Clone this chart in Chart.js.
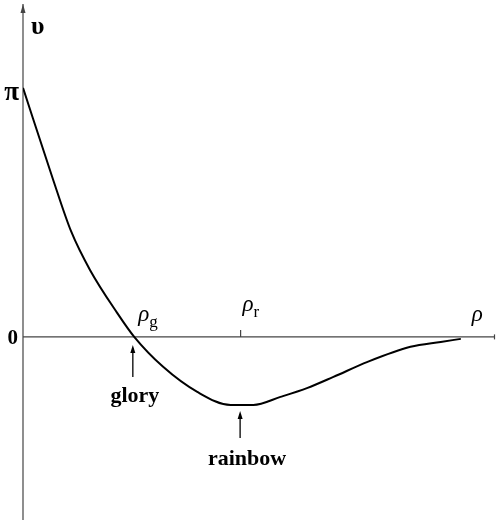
<!DOCTYPE html>
<html>
<head>
<meta charset="utf-8">
<script src="https://cdn.jsdelivr.net/npm/chart.js@4.4.1/dist/chart.umd.min.js"></script>
<style>
  html, body { margin: 0; padding: 0; background: #fff; }
  #plot { display: block; }
</style>
</head>
<body>
<canvas id="plot" width="496" height="524"></canvas>
<script>
// Deflection angle against impact parameter
const rho = [0, 0.069, 0.11, 0.153, 0.215, 0.254, 0.320, 0.398, 0.474, 0.526, 0.588, 0.650, 0.709, 0.787, 0.885, 0.954, 1.0];
const upsilon = [Math.PI, 1.98, 1.33, 0.845, 0.303, 0, -0.378, -0.694, -0.858, -0.858, -0.757, -0.643, -0.505, -0.315, -0.125, -0.063, -0.025];

// Labels on the vertical axis
const yTickValues = [Math.PI, 0];
const yTickLabels = ['π', '0'];

// Special points: glory (zero crossing) and rainbow (minimum)
const markerNames = ['glory', 'rainbow'];
const markerRho = [0.252, 0.497];
const markerSub = ['g', 'r'];

const serif = '"Liberation Serif", "DejaVu Serif", serif';

const axesPlugin = {
  id: 'axes',
  beforeDatasetsDraw(chart) {
    const { ctx, scales: { x, y } } = chart;
    const x0 = x.getPixelForValue(0);
    const y0 = y.getPixelForValue(0);
    ctx.save();
    ctx.strokeStyle = '#444';
    ctx.lineWidth = 1.2;
    // vertical axis with arrowhead
    ctx.beginPath();
    ctx.moveTo(x0, y.bottom);
    ctx.lineTo(x0, y.top);
    ctx.stroke();
    ctx.fillStyle = '#444';
    ctx.beginPath();
    ctx.moveTo(x0, y.top);
    ctx.lineTo(x0 - 2.5, y.top + 9);
    ctx.lineTo(x0 + 2.5, y.top + 9);
    ctx.closePath();
    ctx.fill();
    // horizontal axis
    ctx.beginPath();
    ctx.moveTo(x0, y0);
    ctx.lineTo(x.right, y0);
    ctx.stroke();
    ctx.beginPath();
    ctx.moveTo(x.right - 0.5, y0 - 2.5);
    ctx.lineTo(x.right - 0.5, y0 + 2.5);
    ctx.stroke();
    // tick at the rainbow position
    const xr = x.getPixelForValue(markerRho[1]);
    ctx.beginPath();
    ctx.moveTo(xr, y0);
    ctx.lineTo(xr, y0 - 7);
    ctx.stroke();
    ctx.restore();
  },
  afterDatasetsDraw(chart) {
    const { ctx, scales: { x, y } } = chart;
    const x0 = x.getPixelForValue(0);
    const y0 = y.getPixelForValue(0);
    ctx.save();
    ctx.fillStyle = '#000';
    ctx.textBaseline = 'alphabetic';

    // axis name
    ctx.font = 'bold 26px ' + serif;
    ctx.textAlign = 'left';
    ctx.fillText('υ', x0 + 8, 34);

    // tick labels
    ctx.textAlign = 'right';
    yTickValues.forEach((v, i) => {
      ctx.font = (i === 0 ? 'bold 27px ' : 'bold 21px ') + serif;
      ctx.fillText(yTickLabels[i], x0 - (i === 0 ? 4 : 5), y.getPixelForValue(v) + (i === 0 ? 12 : 7));
    });

    // rho labels
    ctx.textAlign = 'left';
    ctx.font = 'italic 23px ' + serif;
    ctx.fillText('ρ', x.getPixelForValue(1) + 11, y0 - 16);
    markerRho.forEach((r, i) => {
      const px = x.getPixelForValue(r);
      const dx = i === 0 ? 5 : 2;
      const by = i === 0 ? y0 - 16 : y0 - 26;
      ctx.font = 'italic 23px ' + serif;
      ctx.fillText('ρ', px + dx, by);
      ctx.font = '17px ' + serif;
      ctx.fillText(markerSub[i], px + dx + 11, by + 6);
    });

    // arrows and names under the curve
    const arrowTop = [y0 + 8, y.getPixelForValue(-0.858) + 6];
    const arrowLen = [32, 27];
    const textY = [y0 + 65, y0 + 128];
    ctx.strokeStyle = '#000';
    ctx.lineWidth = 1.3;
    markerRho.forEach((r, i) => {
      const px = x.getPixelForValue(r) - 0.5;
      const top = arrowTop[i];
      ctx.beginPath();
      ctx.moveTo(px, top + arrowLen[i]);
      ctx.lineTo(px, top + 3);
      ctx.stroke();
      ctx.beginPath();
      ctx.moveTo(px, top);
      ctx.lineTo(px - 2.5, top + 8);
      ctx.lineTo(px + 2.5, top + 8);
      ctx.closePath();
      ctx.fill();
      ctx.font = 'bold 22px ' + serif;
      ctx.textAlign = 'center';
      ctx.fillText(markerNames[i], px + (i === 0 ? 2 : 7), textY[i]);
    });
    ctx.restore();
  }
};

new Chart(document.getElementById('plot'), {
  type: 'line',
  data: {
    datasets: [{
      data: rho.map((r, i) => ({ x: r, y: upsilon[i] })),
      borderColor: '#000',
      borderWidth: 2,
      pointRadius: 0,
      cubicInterpolationMode: 'monotone',
      fill: false
    }]
  },
  options: {
    responsive: false,
    animation: false,
    layout: { padding: { left: 23, right: 1, top: 4, bottom: 4 } },
    plugins: { legend: { display: false }, tooltip: { enabled: false } },
    scales: {
      x: { type: 'linear', min: 0, max: 1.078, display: false },
      y: { type: 'linear', min: -2.31, max: 4.2, display: false }
    }
  },
  plugins: [axesPlugin]
});
</script>
</body>
</html>
